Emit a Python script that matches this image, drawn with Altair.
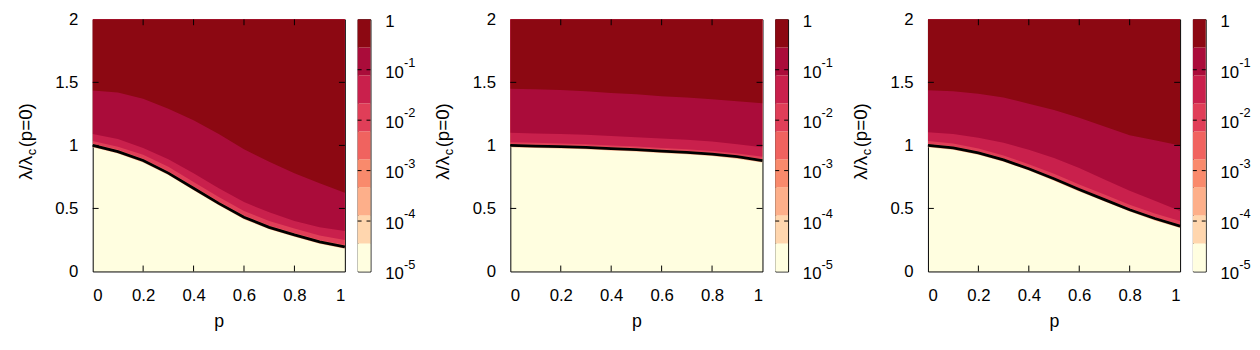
import altair as alt
import pandas as pd

# ---------------- data ----------------
P = [0.0, 0.1, 0.2, 0.3, 0.4, 0.5, 0.6, 0.7, 0.8, 0.9, 1.0]

# Panel 1 (left)
crit1 = [1.0, 0.95, 0.88, 0.78, 0.66, 0.54, 0.43, 0.35, 0.29, 0.235, 0.195]
lo1   = [0.985, 0.935, 0.865, 0.765, 0.645, 0.525, 0.415, 0.335, 0.275, 0.22, 0.18]
hi1   = [1.015, 0.965, 0.895, 0.795, 0.675, 0.555, 0.445, 0.365, 0.305, 0.25, 0.21]
b67_1 = [1.035, 0.99, 0.925, 0.83, 0.71, 0.59, 0.48, 0.40, 0.34, 0.285, 0.25]
b78_1 = [1.09, 1.05, 0.98, 0.89, 0.78, 0.66, 0.55, 0.47, 0.40, 0.35, 0.32]
b89_1 = [1.435, 1.42, 1.37, 1.29, 1.20, 1.09, 0.97, 0.87, 0.78, 0.70, 0.625]

# Panel 2 (middle)
crit2 = [1.0, 0.995, 0.99, 0.985, 0.975, 0.967, 0.955, 0.945, 0.93, 0.91, 0.88]
lo2   = [0.985, 0.98, 0.975, 0.97, 0.96, 0.952, 0.94, 0.93, 0.915, 0.895, 0.865]
hi2   = [1.012, 1.007, 1.002, 0.997, 0.987, 0.979, 0.967, 0.957, 0.942, 0.922, 0.892]
b67_2 = [1.025, 1.02, 1.015, 1.01, 1.0, 0.992, 0.98, 0.97, 0.955, 0.935, 0.91]
b78_2 = [1.10, 1.095, 1.09, 1.085, 1.075, 1.065, 1.055, 1.045, 1.03, 1.01, 0.985]
b89_2 = [1.45, 1.445, 1.44, 1.43, 1.415, 1.405, 1.39, 1.38, 1.365, 1.35, 1.335]

# Panel 3 (right)
crit3 = [1.0, 0.98, 0.94, 0.885, 0.815, 0.735, 0.65, 0.57, 0.49, 0.42, 0.36]
lo3   = [0.985, 0.965, 0.925, 0.87, 0.80, 0.72, 0.635, 0.555, 0.475, 0.405, 0.345]
hi3   = [1.013, 0.993, 0.953, 0.898, 0.828, 0.748, 0.663, 0.583, 0.503, 0.433, 0.373]
b67_3 = [1.035, 1.015, 0.975, 0.92, 0.85, 0.775, 0.69, 0.61, 0.53, 0.46, 0.40]
b78_3 = [1.105, 1.09, 1.06, 1.02, 0.965, 0.90, 0.82, 0.73, 0.64, 0.56, 0.48]
b89_3 = [1.437, 1.43, 1.41, 1.38, 1.33, 1.28, 1.22, 1.15, 1.08, 1.04, 1.0]

# colour box: 9 discrete levels between 1e-5 and 1 (log)
CB_EDGES = [1e-5, 3.59e-5, 1.29e-4, 4.64e-4, 1.668e-3, 5.99e-3, 2.154e-2, 7.74e-2, 0.278, 1.0]
CB_COLORS = ["#fffee0", "#ffd6ae", "#fdaf8a", "#f98a6c", "#f0635f",
             "#e03e58", "#c9204c", "#aa0c3a", "#8c0812"]
CB_DECADES = [1.0, 1e-1, 1e-2, 1e-3, 1e-4, 1e-5]
CB_BASE = ["1", "10", "10", "10", "10", "10"]
CB_SUP = ["", "-1", "-2", "-3", "-4", "-5"]

X_TICKS = [0.2, 0.4, 0.6, 0.8]
Y_TICKS = [0.5, 1.0, 1.5]

W = 256
H = 256
CBW = 13
FONT = "Liberation Sans"


def heat(crit, lo, hi, b67, b78, b89):
    df = pd.DataFrame({"p": P, "crit": crit, "lo": lo, "hi": hi,
                       "b67": b67, "b78": b78, "b89": b89})
    xsc = alt.Scale(domain=[0, 1], nice=False, zero=False)
    ysc = alt.Scale(domain=[0, 2], nice=False, zero=False)
    xaxis = alt.Axis(values=[0, 0.2, 0.4, 0.6, 0.8, 1.0], format="~g", ticks=False,
                     domain=False, grid=False, labelPadding=16, labelFontSize=17,
                     labelFont=FONT, labelColor="black", title="p", titleFontSize=18,
                     titleFont=FONT, titleFontWeight="normal", titleColor="black",
                     titlePadding=10)
    yaxis = alt.Axis(values=[0, 0.5, 1.0, 1.5, 2.0], format="~g", ticks=False,
                     domain=False, grid=False, labelPadding=15, labelFontSize=17,
                     labelFont=FONT, labelColor="black", title=None)
    X = lambda f: alt.X(f, scale=xsc, axis=xaxis)
    Y = lambda f: alt.Y(f, scale=ysc, axis=yaxis)
    layers = []
    order = [("lo", CB_COLORS[2]), ("crit", CB_COLORS[4]), ("hi", CB_COLORS[5]),
             ("b67", CB_COLORS[6]), ("b78", CB_COLORS[7]), ("b89", CB_COLORS[8])]
    for fld, col in order:
        layers.append(
            alt.Chart(df).mark_area(color=col, clip=True).encode(
                x=X("p:Q"), y=Y(f"{fld}:Q"), y2=alt.datum(2.0),
            )
        )
    layers.append(
        alt.Chart(df).mark_line(color="black", strokeWidth=2.8).encode(
            x=X("p:Q"), y=Y("crit:Q")
        )
    )
    xt = pd.DataFrame({"p": X_TICKS})
    yt = pd.DataFrame({"v": Y_TICKS})
    tick = dict(color="black", strokeWidth=1)
    layers.append(alt.Chart(xt).mark_rule(**tick).encode(
        x=X("p:Q"), y=alt.value(H), y2=alt.value(H - 6)))
    layers.append(alt.Chart(xt).mark_rule(**tick).encode(
        x=X("p:Q"), y=alt.value(0), y2=alt.value(6)))
    layers.append(alt.Chart(yt).mark_rule(**tick).encode(
        y=Y("v:Q"), x=alt.value(0), x2=alt.value(6)))
    layers.append(alt.Chart(yt).mark_rule(**tick).encode(
        y=Y("v:Q"), x=alt.value(W - 6), x2=alt.value(W)))
    one = pd.DataFrame({"a": [0]})
    ty = H / 2 + 35
    layers.append(alt.Chart(one).mark_text(
        text="λ/λ", angle=270, align="left", baseline="middle", fontSize=19,
        font=FONT, color="black").encode(x=alt.value(-68), y=alt.value(ty)))
    layers.append(alt.Chart(one).mark_text(
        text="c", angle=270, align="left", baseline="middle", fontSize=13,
        font=FONT, color="black").encode(x=alt.value(-62), y=alt.value(ty - 25)))
    layers.append(alt.Chart(one).mark_text(
        text="(p=0)", angle=270, align="left", baseline="middle", fontSize=19,
        font=FONT, color="black").encode(x=alt.value(-68), y=alt.value(ty - 33)))
    return alt.layer(*layers).properties(width=W, height=H)


def cbar():
    names = [f"c{i}" for i in range(9)]
    df = pd.DataFrame({"lo": CB_EDGES[:-1], "hi": CB_EDGES[1:], "band": names})
    ysc = alt.Scale(type="log", domain=[1e-5, 1.0], nice=False)
    Y = lambda f: alt.Y(f, scale=ysc, axis=None)
    rects = alt.Chart(df).mark_rect().encode(
        y=Y("lo:Q"), y2="hi:Q",
        x=alt.value(0), x2=alt.value(CBW),
        color=alt.Color("band:N", scale=alt.Scale(domain=names, range=CB_COLORS),
                        legend=None),
    )
    dec = pd.DataFrame({"v": CB_DECADES[1:-1]})
    t1 = alt.Chart(dec).mark_rule(color="black", strokeWidth=1).encode(
        y=Y("v:Q"), x=alt.value(0), x2=alt.value(4))
    t2 = alt.Chart(dec).mark_rule(color="black", strokeWidth=1).encode(
        y=Y("v:Q"), x=alt.value(CBW - 4), x2=alt.value(CBW))
    lab = pd.DataFrame({"v": CB_DECADES, "base": CB_BASE, "sup": CB_SUP})
    base = alt.Chart(lab).mark_text(align="left", baseline="middle", fontSize=17,
                                    font=FONT, color="black", dy=3).encode(
        y=Y("v:Q"), x=alt.value(CBW + 15), text="base:N")
    sup = alt.Chart(lab).mark_text(align="left", baseline="middle", fontSize=13,
                                   font=FONT, color="black", dy=-7).encode(
        y=Y("v:Q"), x=alt.value(CBW + 15 + 19), text="sup:N")
    return alt.layer(rects, t1, t2, base, sup).properties(width=CBW, height=H)


p1 = alt.hconcat(heat(crit1, lo1, hi1, b67_1, b78_1, b89_1), cbar(), spacing=5)
p2 = alt.hconcat(heat(crit2, lo2, hi2, b67_2, b78_2, b89_2), cbar(), spacing=5)
p3 = alt.hconcat(heat(crit3, lo3, hi3, b67_3, b78_3, b89_3), cbar(), spacing=5)

chart = alt.hconcat(p1, p2, p3, spacing=17).properties(
    padding={"left": 8, "top": -5, "right": 0, "bottom": 0},
    background="white",
).configure_view(stroke="black", strokeWidth=1, fill=CB_COLORS[0]
).configure_concat(spacing=17)

chart.save("out.html", embed_options={"renderer": "svg", "actions": False})
